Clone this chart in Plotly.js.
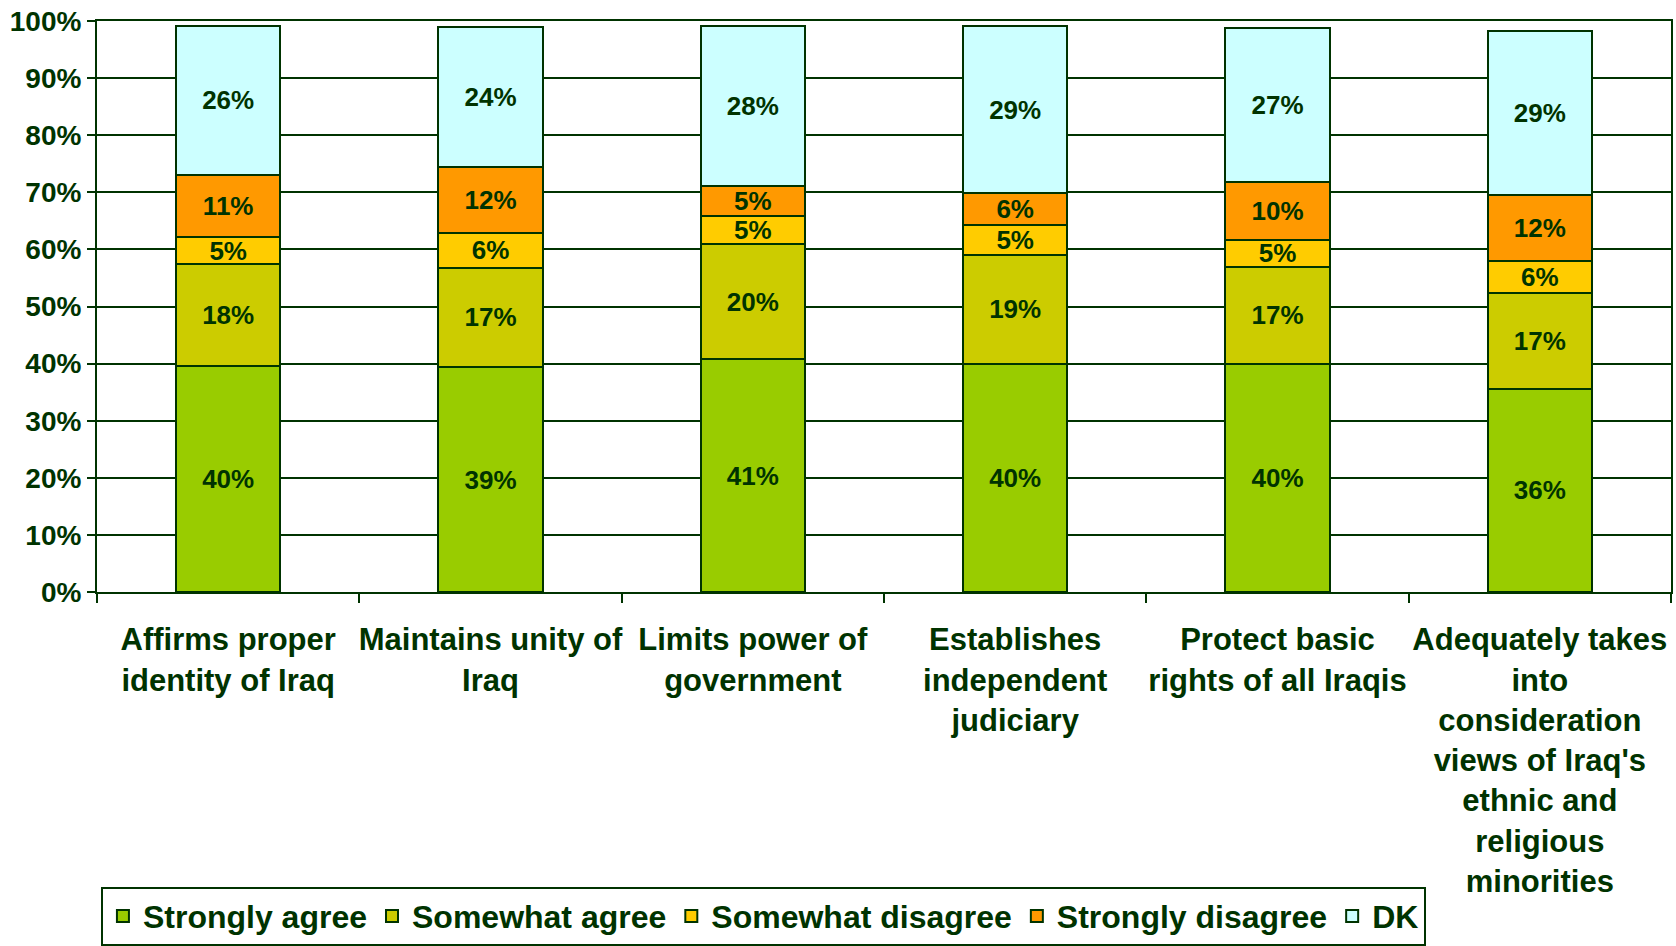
<!DOCTYPE html>
<html>
<head>
<meta charset="utf-8">
<script src="https://cdn.plot.ly/plotly-3.0.1.min.js"></script>
<style>
  html, body { margin: 0; padding: 0; background: #ffffff; }
  #chart { width: 1676px; height: 946px; }
</style>
</head>
<body>
<div id="chart"></div>
<script>
// Categories (x axis labels)
var categories = [
  "Affirms proper<br>identity of Iraq",
  "Maintains unity of<br>Iraq",
  "Limits power of<br>government",
  "Establishes<br>independent<br>judiciary",
  "Protect basic<br>rights of all Iraqis",
  "Adequately takes<br>into<br>consideration<br>views of Iraq's<br>ethnic and<br>religious<br>minorities"
];

// Series values (percent)
var stronglyAgree    = [39.6, 39.4, 40.8, 40.0, 40.0, 35.6];
var somewhatAgree    = [17.8, 17.4, 20.1, 19.1, 17.0, 16.8];
var somewhatDisagree = [4.7, 6.1, 5.0, 5.1, 4.6, 5.6];
var stronglyDisagree = [11.0, 11.6, 5.2, 5.6, 10.2, 11.6];
var dontKnow         = [26.1, 24.4, 28.1, 29.4, 26.9, 28.7];

var seriesNames  = ["Strongly agree", "Somewhat agree", "Somewhat disagree", "Strongly disagree", "DK"];
var seriesValues = [stronglyAgree, somewhatAgree, somewhatDisagree, stronglyDisagree, dontKnow];
var seriesColors = ["#99CC00", "#CCCC00", "#FFCC00", "#FF9900", "#CCFFFF"];

var DARK = "#003300";
var FONT = "'Liberation Sans', Arial, sans-serif";

var traces = seriesNames.map(function (name, i) {
  return {
    type: "bar",
    name: name,
    x: categories,
    y: seriesValues[i],
    marker: { color: seriesColors[i], line: { color: DARK, width: 2 } },
    texttemplate: "%{y:.0f}%",
    textposition: "inside",
    insidetextanchor: "middle",
    textangle: 0,
    constraintext: "none",
    textfont: { family: FONT, size: 26, color: DARK, weight: 700 },
    hoverinfo: "name+y"
  };
});

var layout = {
  width: 1676,
  height: 946,
  paper_bgcolor: "#ffffff",
  plot_bgcolor: "#ffffff",
  margin: { l: 97, r: 5, t: 21, b: 354, autoexpand: false },
  barmode: "stack",
  bargap: 0.603,
  font: { family: FONT, color: DARK, weight: 700 },
  showlegend: true,
  legend: {
    orientation: "h",
    traceorder: "normal",
    x: 0.0025, xanchor: "left",
    y: -0.516, yanchor: "top",
    bordercolor: DARK, borderwidth: 2,
    bgcolor: "#ffffff",
    font: { family: FONT, size: 32, color: DARK, weight: 700 }
  },
  xaxis: {
    type: "category",
    showgrid: false,
    showline: true, linecolor: DARK, linewidth: 2, mirror: true,
    ticks: "outside", tickson: "boundaries", ticklen: 9, tickwidth: 2, tickcolor: DARK,
    tickangle: 0,
    ticklabelstandoff: 19,
    tickfont: { family: FONT, size: 31, color: DARK, weight: 700 },
    automargin: false
  },
  yaxis: {
    range: [0, 100],
    dtick: 10,
    ticksuffix: "%",
    showgrid: true, gridcolor: DARK, gridwidth: 2,
    showline: true, linecolor: DARK, linewidth: 2, mirror: true,
    ticks: "outside", ticklen: 8, tickwidth: 2, tickcolor: DARK,
    tickfont: { family: FONT, size: 28, color: DARK, weight: 700 },
    zeroline: false,
    automargin: false
  }
};

Plotly.newPlot("chart", traces, layout, { displayModeBar: false, staticPlot: true });
</script>
</body>
</html>
